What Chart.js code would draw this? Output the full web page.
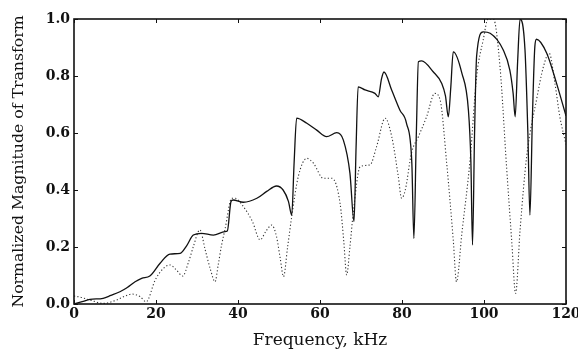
<!DOCTYPE html>
<html>
<head>
<meta charset="utf-8">
<script src="https://cdn.jsdelivr.net/npm/chart.js@4/dist/chart.umd.min.js"></script>
<style>
  html, body { margin: 0; padding: 0; background: #fff; }
  #wrap { width: 578px; height: 351px; }
</style>
</head>
<body>
<div id="wrap"><canvas id="c" width="578" height="351"></canvas></div>
<script>
const xTicks = [0, 20, 40, 60, 80, 100, 120];
const yTicks = [0.0, 0.2, 0.4, 0.6, 0.8, 1.0];

const solidX = [0, 2, 3.9, 7.1, 9, 11.2, 13, 14.9, 16.5, 18.5, 21, 23.4, 25.9, 27.5, 29.1, 31.1, 34, 36.8, 37.4, 38.3, 38.8, 41.3, 44.6, 47, 49.4, 51, 52.3, 53.1, 53.7, 54.3, 56.8, 59.2, 61.6, 64.1, 65.7, 67.3, 68.3, 68.8, 69.3, 71, 73.4, 74.2, 75, 75.6, 77.5, 79.5, 81.1, 82.4, 82.9, 83.5, 84, 84.8, 87.6, 89.7, 90.6, 91.3, 91.9, 92.5, 94.6, 96.2, 96.8, 97.2, 97.7, 98.2, 99.8, 101.5, 104.7, 106.3, 107.1, 107.6, 108.2, 108.8, 110, 110.7, 111.2, 111.8, 112.4, 112.8, 115.3, 117.7, 120];
const solidY = [0, 0.008, 0.016, 0.02, 0.03, 0.043, 0.058, 0.078, 0.09, 0.098, 0.143, 0.175, 0.178, 0.205, 0.242, 0.248, 0.242, 0.254, 0.256, 0.36, 0.365, 0.357, 0.371, 0.395, 0.414, 0.40, 0.36, 0.312, 0.5, 0.652, 0.634, 0.61, 0.587, 0.601, 0.575, 0.459, 0.289, 0.55, 0.762, 0.751, 0.739, 0.727, 0.79, 0.814, 0.75, 0.68, 0.634, 0.494, 0.23, 0.6, 0.85, 0.853, 0.815, 0.774, 0.73, 0.657, 0.76, 0.885, 0.81, 0.68, 0.5, 0.207, 0.6, 0.87, 0.955, 0.95, 0.891, 0.821, 0.74, 0.657, 0.85, 1.0, 0.891, 0.6, 0.312, 0.65, 0.903, 0.929, 0.88, 0.774, 0.66];

const dottedX = [0, 1.5, 3.9, 7.1, 10.4, 12.5, 14.1, 16.1, 17.6, 19.8, 21.8, 23.4, 25, 26.5, 28, 29.1, 30.7, 32, 33.3, 34.4, 35.2, 36, 36.8, 38.5, 39.3, 41.3, 43.5, 45.4, 46.8, 48.2, 49.4, 50.3, 51.1, 52.1, 53.1, 54.7, 56.8, 58.4, 60.8, 62.9, 64.9, 65.8, 66.5, 67.3, 68.1, 69.8, 72.2, 73.8, 75.9, 77.5, 79.1, 79.9, 80.8, 82.3, 84, 86, 88, 89.3, 90.9, 92.5, 93.3, 94.6, 96.6, 98.2, 99.8, 101, 102.3, 103.9, 105.5, 106.8, 107.7, 108.8, 110.4, 112.8, 114.5, 115.9, 117.3, 118.5, 120];
const dottedY = [0.028, 0.024, 0.014, 0.002, 0.014, 0.028, 0.035, 0.026, 0.008, 0.084, 0.125, 0.137, 0.119, 0.098, 0.15, 0.201, 0.26, 0.19, 0.12, 0.078, 0.14, 0.207, 0.26, 0.371, 0.371, 0.342, 0.29, 0.225, 0.255, 0.277, 0.236, 0.16, 0.096, 0.2, 0.306, 0.447, 0.511, 0.494, 0.441, 0.441, 0.353, 0.22, 0.102, 0.2, 0.318, 0.482, 0.488, 0.552, 0.652, 0.587, 0.447, 0.371, 0.40, 0.529, 0.587, 0.657, 0.739, 0.716, 0.494, 0.225, 0.078, 0.248, 0.505, 0.798, 0.926, 1.0, 1.0, 0.833, 0.482, 0.213, 0.037, 0.26, 0.517, 0.716, 0.833, 0.88, 0.774, 0.657, 0.56];

const toPts = (xs, ys) => xs.map((x, i) => ({x: x, y: ys[i]}));
const FONT = "'DejaVu Serif', 'Liberation Serif', serif";

const framePlugin = {
  id: 'frame',
  afterDatasetsDraw(chart) {
    const {ctx, chartArea: a, scales: {x, y}} = chart;
    ctx.save();
    ctx.strokeStyle = '#111';
    ctx.lineWidth = 1.6;
    ctx.strokeRect(a.left, a.top, a.right - a.left, a.bottom - a.top);
    ctx.lineWidth = 1;
    const L = 4;
    ctx.beginPath();
    x.ticks.forEach(t => {
      const px = Math.round(x.getPixelForValue(t.value)) + 0.5;
      ctx.moveTo(px, a.bottom); ctx.lineTo(px, a.bottom - L);
      ctx.moveTo(px, a.top); ctx.lineTo(px, a.top + L);
    });
    y.ticks.forEach(t => {
      const py = Math.round(y.getPixelForValue(t.value)) + 0.5;
      ctx.moveTo(a.left, py); ctx.lineTo(a.left + L, py);
      ctx.moveTo(a.right, py); ctx.lineTo(a.right - L, py);
    });
    ctx.stroke();
    ctx.restore();
  }
};

new Chart(document.getElementById('c'), {
  type: 'line',
  data: {
    datasets: [
      {
        data: toPts(solidX, solidY),
        borderColor: '#111',
        borderWidth: 1.3,
        pointRadius: 0,
        fill: false,
        cubicInterpolationMode: 'monotone'
      },
      {
        data: toPts(dottedX, dottedY),
        borderColor: '#333',
        borderWidth: 1.1,
        borderDash: [1.2, 2.2],
        pointRadius: 0,
        fill: false,
        cubicInterpolationMode: 'monotone'
      }
    ]
  },
  options: {
    responsive: false,
    animation: false,
    devicePixelRatio: 1,
    layout: { padding: { left: 0, right: 12, top: 19, bottom: 0 } },
    plugins: { legend: { display: false }, tooltip: { enabled: false } },
    scales: {
      x: {
        type: 'linear',
        min: 0, max: 120,
        afterBuildTicks: s => { s.ticks = xTicks.map(v => ({value: v})); },
        afterFit: s => { s.height = 47; s.paddingLeft = 0; s.paddingRight = 0; },
        grid: { display: false, drawTicks: false },
        border: { display: false },
        ticks: {
          color: '#111',
          padding: 2,
          maxRotation: 0,
          font: { family: FONT, size: 14, weight: 'bold' },
          callback: v => String(v)
        },
        title: {
          display: true,
          text: 'Frequency, kHz',
          color: '#111',
          font: { family: FONT, size: 17, lineHeight: 1 },
          padding: { top: 0, bottom: 1.5 }
        }
      },
      y: {
        type: 'linear',
        min: 0, max: 1,
        afterBuildTicks: s => { s.ticks = yTicks.map(v => ({value: v})); },
        afterFit: s => { s.width = 74; s.paddingTop = 0; s.paddingBottom = 0; },
        grid: { display: false, drawTicks: false },
        border: { display: false },
        ticks: {
          color: '#111',
          padding: 4,
          font: { family: FONT, size: 14, weight: 'bold' },
          callback: v => v.toFixed(1)
        },
        title: {
          display: true,
          text: 'Normalized Magnitude of Transform',
          color: '#111',
          font: { family: FONT, size: 15.7, lineHeight: 1 },
          padding: { top: 11, bottom: 0 }
        }
      }
    }
  },
  plugins: [framePlugin]
});
</script>
</body>
</html>
